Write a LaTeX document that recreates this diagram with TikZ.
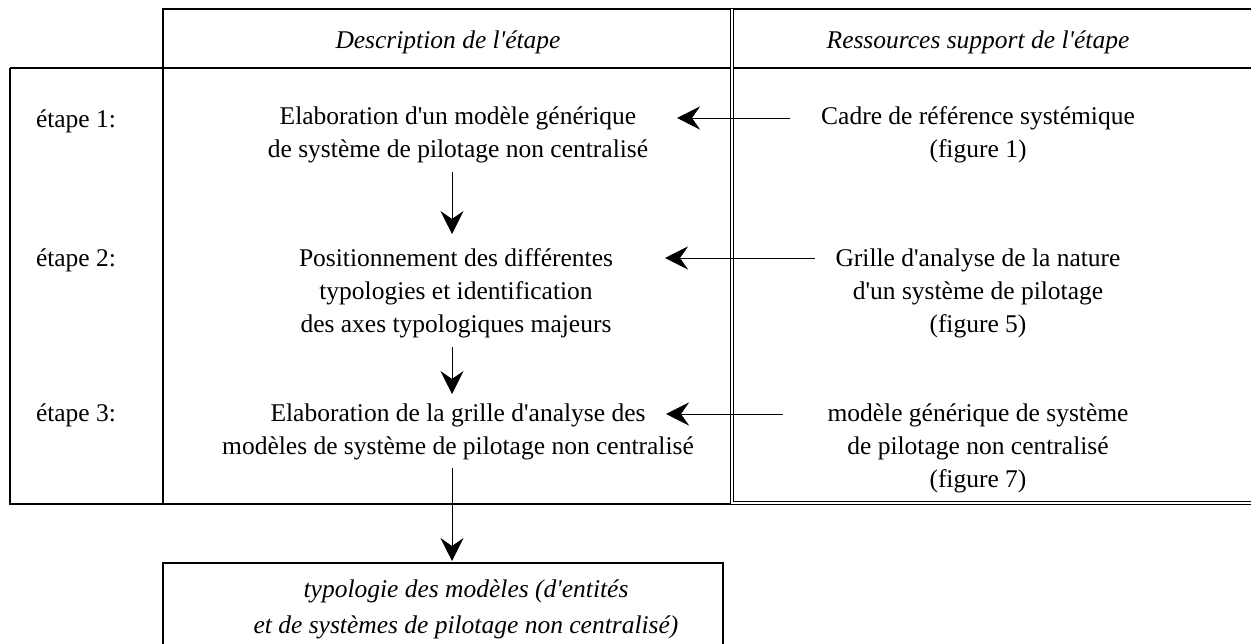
\documentclass[tikz,border=0pt]{standalone}
\usepackage{fontspec}
\setmainfont{Liberation Serif}[Ligatures=TeXOff]
\usetikzlibrary{arrows.meta}
\begin{document}
\begin{tikzpicture}[x=1pt,y=-1pt,
  frame/.style={line width=1.5pt},
  dbl/.style={double,double distance=1.3pt,line width=1.1pt},
  txt/.style={align=center,font=\fontsize{25.5}{33}\selectfont,inner sep=0pt},
  itxt/.style={txt,font=\fontsize{25.5}{36}\selectfont\itshape},
  arr/.style={line width=0.8pt,-{Stealth[length=23pt,width=23pt,inset=8pt]}}]
\useasboundingbox (0,0) rectangle (1251,644);
\begin{scope}
\clip (0,0) rectangle (1251,644);
% header and table frame
\draw[frame] (163,504) -- (163,9) -- (1260,9);
\draw[frame] (10,68) -- (1260,68);
\draw[frame] (10,68) -- (10,504) -- (732,504);
\draw[dbl] (732,9) -- (732,503) -- (1260,503);
% bottom box
\draw[frame] (163,670) -- (163,563) -- (723,563) -- (723,670);
\end{scope}
% header texts
\node[itxt] (h1) at (448,42) {Description de l'étape};
\node[itxt] (h2) at (978,42) {Ressources support de l'étape};
% step labels
\node[txt] (e1) at (76,121) {étape 1:};
\node[txt] (e2) at (76,260) {étape 2:};
\node[txt] (e3) at (76,415) {étape 3:};
% steps
\node[txt] (s1) at (458,134.5) {Elaboration d'un modèle générique\\de système de pilotage non centralisé};
\node[txt] (s2) at (456,293) {Positionnement des différentes\\typologies et identification\\des axes typologiques majeurs};
\node[txt] (s3) at (458,431.5) {Elaboration de la grille d'analyse des\\modèles de système de pilotage non centralisé};
\node[itxt] (out) at (466,609) {typologie des modèles (d'entités\\et de systèmes de pilotage non centralisé)};
% resources
\node[txt] (r1) at (978,134.5) {Cadre de référence systémique\\(figure 1)};
\node[txt] (r2) at (978,293) {Grille d'analyse de la nature\\d'un système de pilotage\\(figure 5)};
\node[txt] (r3) at (978,448) {modèle générique de système\\de pilotage non centralisé\\(figure 7)};
% arrow end points
\coordinate (a1s) at (790,118);
\coordinate (a1e) at (677,118);
\coordinate (a2s) at (815,258);
\coordinate (a2e) at (665,258);
\coordinate (a3s) at (783,414);
\coordinate (a3e) at (666,414);
\coordinate (v1s) at (452,172);
\coordinate (v1e) at (452,234);
\coordinate (v2s) at (452,347);
\coordinate (v2e) at (452,394);
\coordinate (v3s) at (452,468);
\coordinate (v3e) at (452,561);
\draw[arr] (a1s) -- (a1e);
\draw[arr] (a2s) -- (a2e);
\draw[arr] (a3s) -- (a3e);
\draw[arr] (v1s) -- (v1e);
\draw[arr] (v2s) -- (v2e);
\draw[arr] (v3s) -- (v3e);
\end{tikzpicture}
\end{document}
